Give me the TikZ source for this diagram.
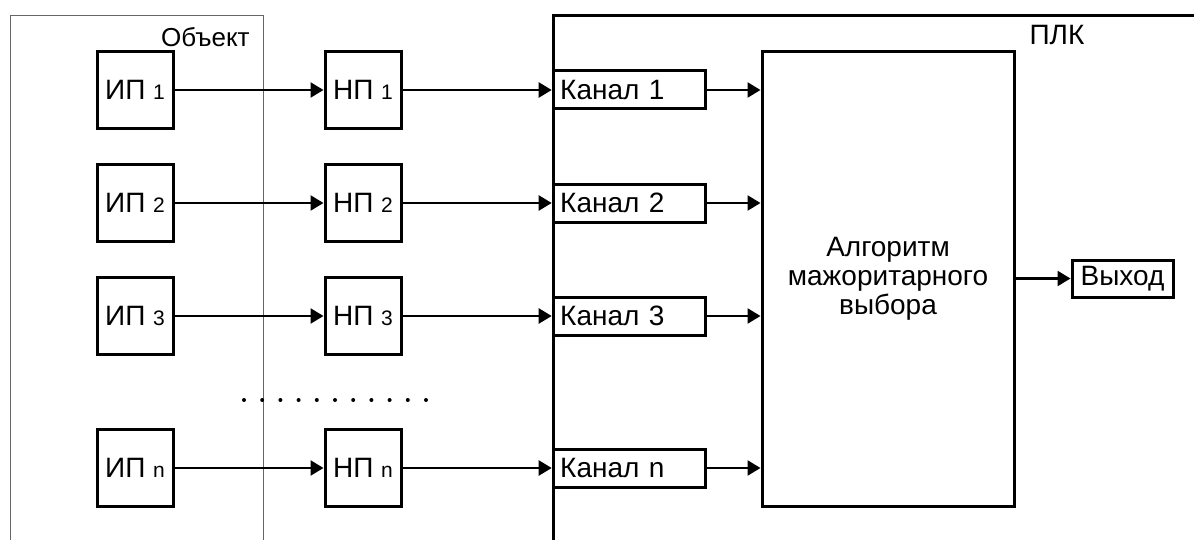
\documentclass[tikz,border=0pt]{standalone}
\usepackage{fontspec}
\setmainfont{Liberation Sans}
\usetikzlibrary{arrows.meta,positioning}

\newcommand{\nidx}[1]{{\fontsize{10.5}{11}\selectfont #1}}
\tikzset{
  block/.style={draw,line width=1.5pt,inner sep=0pt,minimum width=38pt,minimum height=38.5pt,font=\fontsize{14}{16}\selectfont},
  chan/.style={draw,line width=1.5pt,inner xsep=3.5pt,inner ysep=0pt,minimum height=19pt,text width=69pt,align=left,font=\fontsize{14}{16}\selectfont},
  link/.style={-{Triangle[length=6.5pt,width=7.5pt]},line width=1.2pt},
  caption/.style={inner sep=0pt,font=\fontsize{13}{15}\selectfont},
}

\begin{document}
\begin{tikzpicture}[x=0.5pt,y=-0.5pt]
\clip (0,0) rectangle (1194,540);
\fill [white] (0,0) rectangle (1194,540);
% frames
\node [draw=black!60,line width=0.5pt,anchor=north west,minimum width=126.5pt,minimum height=300pt] (Object) at (10,15) {};
\node [draw,line width=1.5pt,anchor=north west,minimum width=400pt,minimum height=300pt] (PLK) at (551.7,14) {};
\node [caption,anchor=north east] (ObjectLabel) at (250,27) {Объект};
\node [caption,font=\fontsize{14}{16}\selectfont] (PLKLabel) at (1057,35) {ПЛК};
% sources
\node [block] (IP1) at (135,90) {ИП \nidx{1}};
\node [block] (IP2) at (135,203) {ИП \nidx{2}};
\node [block] (IP3) at (135,316) {ИП \nidx{3}};
\node [block] (IPn) at (135,468) {ИП \nidx{n}};
% converters
\node [block] (NP1) at (363,90) {НП \nidx{1}};
\node [block] (NP2) at (363,203) {НП \nidx{2}};
\node [block] (NP3) at (363,316) {НП \nidx{3}};
\node [block] (NPn) at (363,468) {НП \nidx{n}};
% channels
\node [chan,anchor=west] (Kanal1) at (551.7,90) {Канал 1};
\node [chan,anchor=west] (Kanal2) at (551.7,203) {Канал 2};
\node [chan,anchor=west] (Kanal3) at (551.7,316) {Канал 3};
\node [chan,anchor=west] (Kanaln) at (551.7,468) {Канал n};
% voter and output
\node [draw,line width=1.5pt,minimum width=126pt,minimum height=227pt,align=center,font=\fontsize{14}{14.5}\selectfont] (Algo) at (888,279) {Алгоритм\\мажоритарного\\выбора};
\node [draw,line width=1.5pt,inner sep=0pt,minimum width=50.5pt,minimum height=18.5pt,font=\fontsize{14}{16}\selectfont] (Vyhod) at (1122.5,278.5) {Выход};
\draw [link] (IP1) -- (NP1);
\draw [link] (IP2) -- (NP2);
\draw [link] (IP3) -- (NP3);
\draw [link] (IPn) -- (NPn);
\draw [link] (NP1) -- (Kanal1);
\draw [link] (NP2) -- (Kanal2);
\draw [link] (NP3) -- (Kanal3);
\draw [link] (NPn) -- (Kanaln);
\draw [link] (Kanal1.east) -- (Kanal1.east -| Algo.west);
\draw [link] (Kanal2.east) -- (Kanal2.east -| Algo.west);
\draw [link] (Kanal3.east) -- (Kanal3.east -| Algo.west);
\draw [link] (Kanaln.east) -- (Kanaln.east -| Algo.west);
\draw [link] (Vyhod.west -| Algo.east) -- (Vyhod.west);
% omitted rows
\draw [line width=2pt,line cap=round,dash pattern=on 0pt off 9.1pt] (244,400) -- (430,400);
\end{tikzpicture}
\end{document}
